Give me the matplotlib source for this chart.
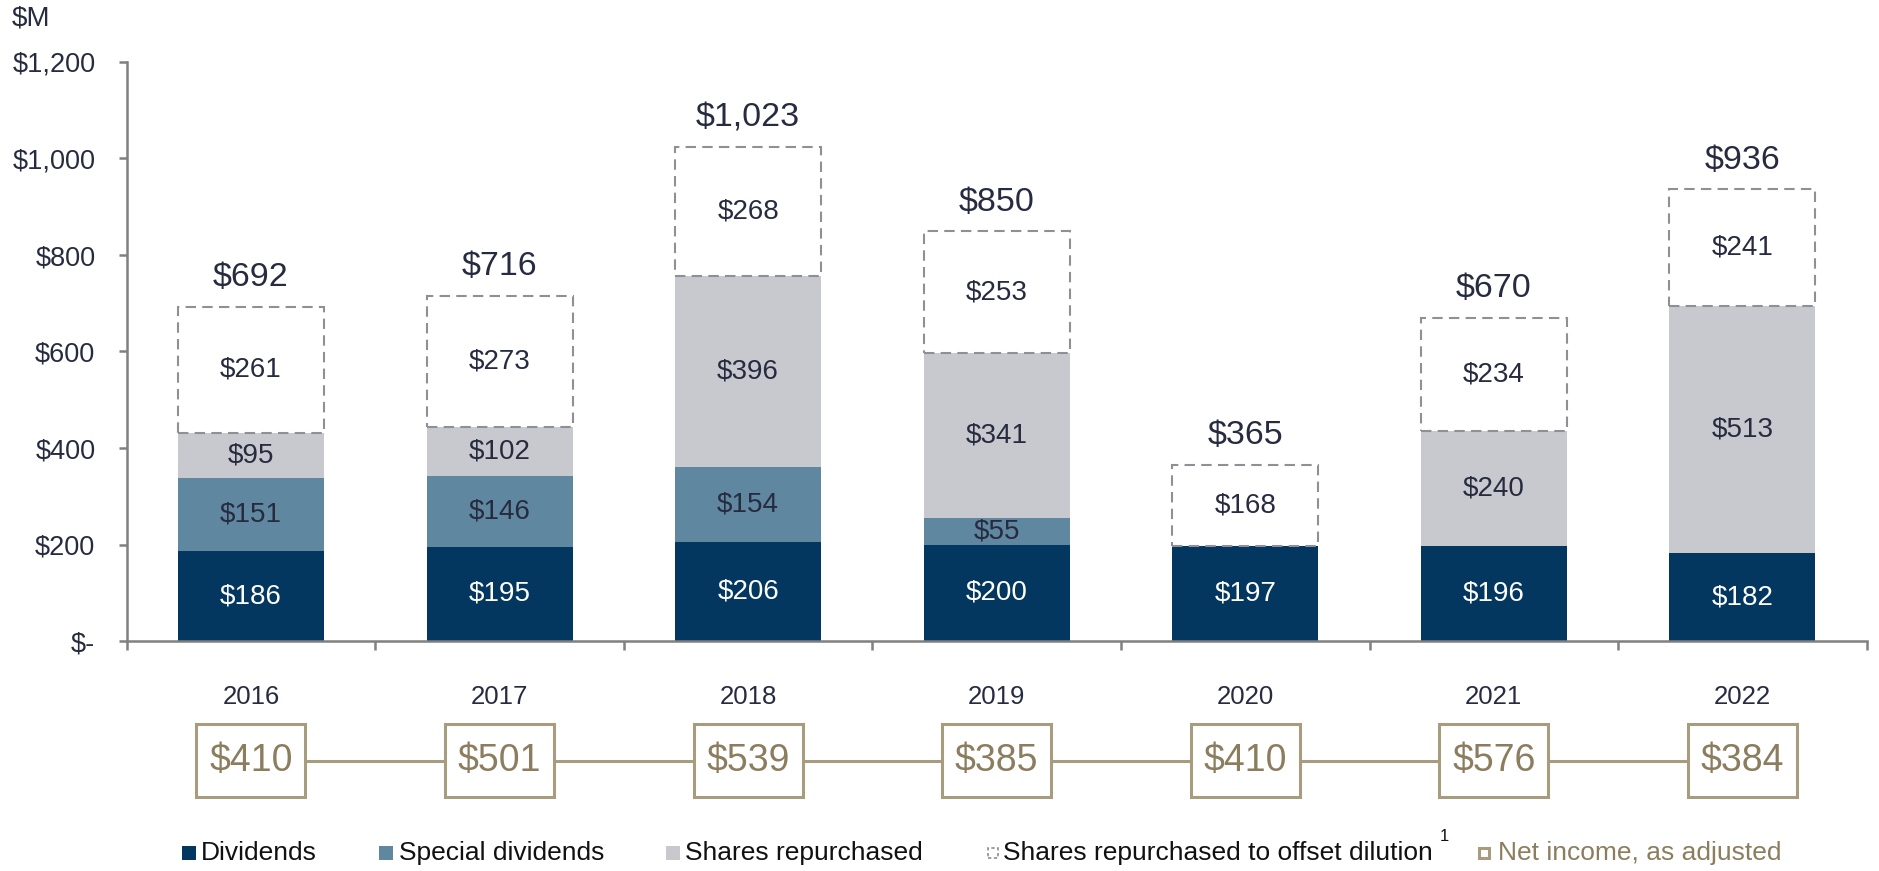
import matplotlib
matplotlib.use("Agg")
import matplotlib.pyplot as plt
from matplotlib.patches import Rectangle
from matplotlib.transforms import blended_transform_factory

plt.rcParams['font.family'] = ['Liberation Sans', 'DejaVu Sans']

years = ["2016", "2017", "2018", "2019", "2020", "2021", "2022"]
dividends = [186, 195, 206, 200, 197, 196, 182]
special_dividends = [151, 146, 154, 55, 0, 0, 0]
shares_repurchased = [95, 102, 396, 341, 0, 240, 513]
offset_dilution = [261, 273, 268, 253, 168, 234, 241]
totals = [692, 716, 1023, 850, 365, 670, 936]
net_income = [410, 501, 539, 385, 410, 576, 384]
yticks = [0, 200, 400, 600, 800, 1000, 1200]
ytick_labels = ["$-", "$200", "$400", "$600", "$800", "$1,000", "$1,200"]

W, H = 1879, 871
fig = plt.figure(figsize=(W / 100, H / 100), dpi=100)

NAVY = "#03375F"
STEEL = "#5F87A0"
LGRAY = "#C8C9CE"
DASH = "#8E9096"
TXT = "#272B3F"
TAN = "#A89C7F"
TANTXT = "#8B7D5E"
AXC = "#808080"

SEG_FS = 20
TOT_FS = 24.5
TICK_FS = 19.5
YEAR_FS = 18.5
NI_FS = 27
LEG_FS = 19

def fx(px):
    return px / W

def fy(py):
    return 1 - py / H

ax = fig.add_axes([fx(126.7), fy(641), fx(1866.7) - fx(126.7), fy(62) - fy(641)])
x = list(range(len(years)))
bw = 0.587

ax.bar(x, dividends, bw, color=NAVY, zorder=2)
bottom2 = dividends
ax.bar(x, special_dividends, bw, bottom=bottom2, color=STEEL, zorder=2)
bottom3 = [a + b for a, b in zip(dividends, special_dividends)]
ax.bar(x, shares_repurchased, bw, bottom=bottom3, color=LGRAY, zorder=2)
bottom4 = [a + b for a, b in zip(bottom3, shares_repurchased)]
ax.bar(x, offset_dilution, bw, bottom=bottom4, facecolor="white",
       edgecolor=DASH, linewidth=1.5, linestyle=(0, (5, 3)), zorder=2)

# Segment labels
for i in x:
    ax.text(i, dividends[i] / 2, f"${dividends[i]}", ha="center", va="center",
            color="white", fontsize=SEG_FS, zorder=3)
    if special_dividends[i] > 0:
        ax.text(i, bottom2[i] + special_dividends[i] / 2, f"${special_dividends[i]}",
                ha="center", va="center", color=TXT, fontsize=SEG_FS, zorder=3)
    if shares_repurchased[i] > 0:
        ax.text(i, bottom3[i] + shares_repurchased[i] / 2, f"${shares_repurchased[i]}",
                ha="center", va="center", color=TXT, fontsize=SEG_FS, zorder=3)
    ax.text(i, bottom4[i] + offset_dilution[i] / 2, f"${offset_dilution[i]}",
            ha="center", va="center", color=TXT, fontsize=SEG_FS, zorder=3)
    ax.annotate(f"${totals[i]:,}", xy=(i, bottom4[i] + offset_dilution[i]),
                xytext=(0, 21), textcoords="offset points", ha="center", va="center",
                color=TXT, fontsize=TOT_FS)

ax.set_xlim(-0.5, len(years) - 0.5)
ax.set_ylim(0, 1200)
ax.set_yticks(yticks)
ax.set_yticklabels(ytick_labels)
ax.set_xticks([i - 0.5 for i in range(len(years) + 1)])
ax.set_xticklabels([])
for s in ["top", "right"]:
    ax.spines[s].set_visible(False)
for s in ["left", "bottom"]:
    ax.spines[s].set_color(AXC)
    ax.spines[s].set_linewidth(1.8)
ax.tick_params(axis="y", direction="out", length=5.5, width=1.8, color=AXC,
               labelsize=TICK_FS, labelcolor=TXT, pad=17)
ax.tick_params(axis="x", direction="out", length=6.5, width=1.8, color=AXC)

# Year labels
tr = blended_transform_factory(ax.transData, fig.transFigure)
for i in x:
    ax.text(i, fy(697), years[i], transform=tr, ha="center", va="center",
            fontsize=YEAR_FS, color=TXT)

fig.text(fx(12), fy(18), "$M", ha="left", va="center", fontsize=20, color=TXT)

# Net income boxes
ax2 = fig.add_axes([fx(126.7), fy(797), fx(1866.7) - fx(126.7), fy(724) - fy(797)])
ax2.set_xlim(-0.5, len(years) - 0.5)
ax2.set_ylim(0, 1)
ax2.axis("off")
ax2.plot(x, [0.5] * len(x), color=TAN, linewidth=2.2, zorder=1)
boxw = 109 / 248.6
for i in x:
    ax2.add_patch(Rectangle((i - boxw / 2, 0), boxw, 1, facecolor="white",
                            edgecolor=TAN, linewidth=2.2, zorder=2, clip_on=False))
    ax2.text(i, 0.5, f"${net_income[i]}", ha="center", va="center",
             fontsize=NI_FS, color=TANTXT, zorder=3)

# Legend (manual)
ly = 853
def legend_square(x0, size, fc, ec=None, ls="solid", lw=0):
    fig.patches.append(Rectangle((fx(x0), fy(ly + size / 2)), fx(size), size / H,
                                 transform=fig.transFigure, facecolor=fc,
                                 edgecolor=ec if ec else fc, linewidth=lw,
                                 linestyle=ls))

legend_square(182, 14, NAVY)
fig.text(fx(201), fy(ly), "Dividends", ha="left", va="center", fontsize=LEG_FS, color="#111111")
legend_square(379, 14, STEEL)
fig.text(fx(399), fy(ly), "Special dividends", ha="left", va="center", fontsize=LEG_FS, color="#111111")
legend_square(666, 14, LGRAY)
fig.text(fx(685), fy(ly), "Shares repurchased", ha="left", va="center", fontsize=LEG_FS, color="#111111")
legend_square(988, 10, "white", ec=DASH, ls=(0, (2, 1.5)), lw=1.2)
fig.text(fx(1003), fy(ly), "Shares repurchased to offset dilution", ha="left", va="center",
         fontsize=LEG_FS, color="#111111")
fig.text(fx(1440), fy(836), "1", ha="left", va="center", fontsize=12, color="#111111")
legend_square(1479, 10, "white", ec=TAN, lw=2.2)
fig.text(fx(1498), fy(ly), "Net income, as adjusted", ha="left", va="center", fontsize=LEG_FS, color=TANTXT)

fig.savefig("out.png", dpi=100)
